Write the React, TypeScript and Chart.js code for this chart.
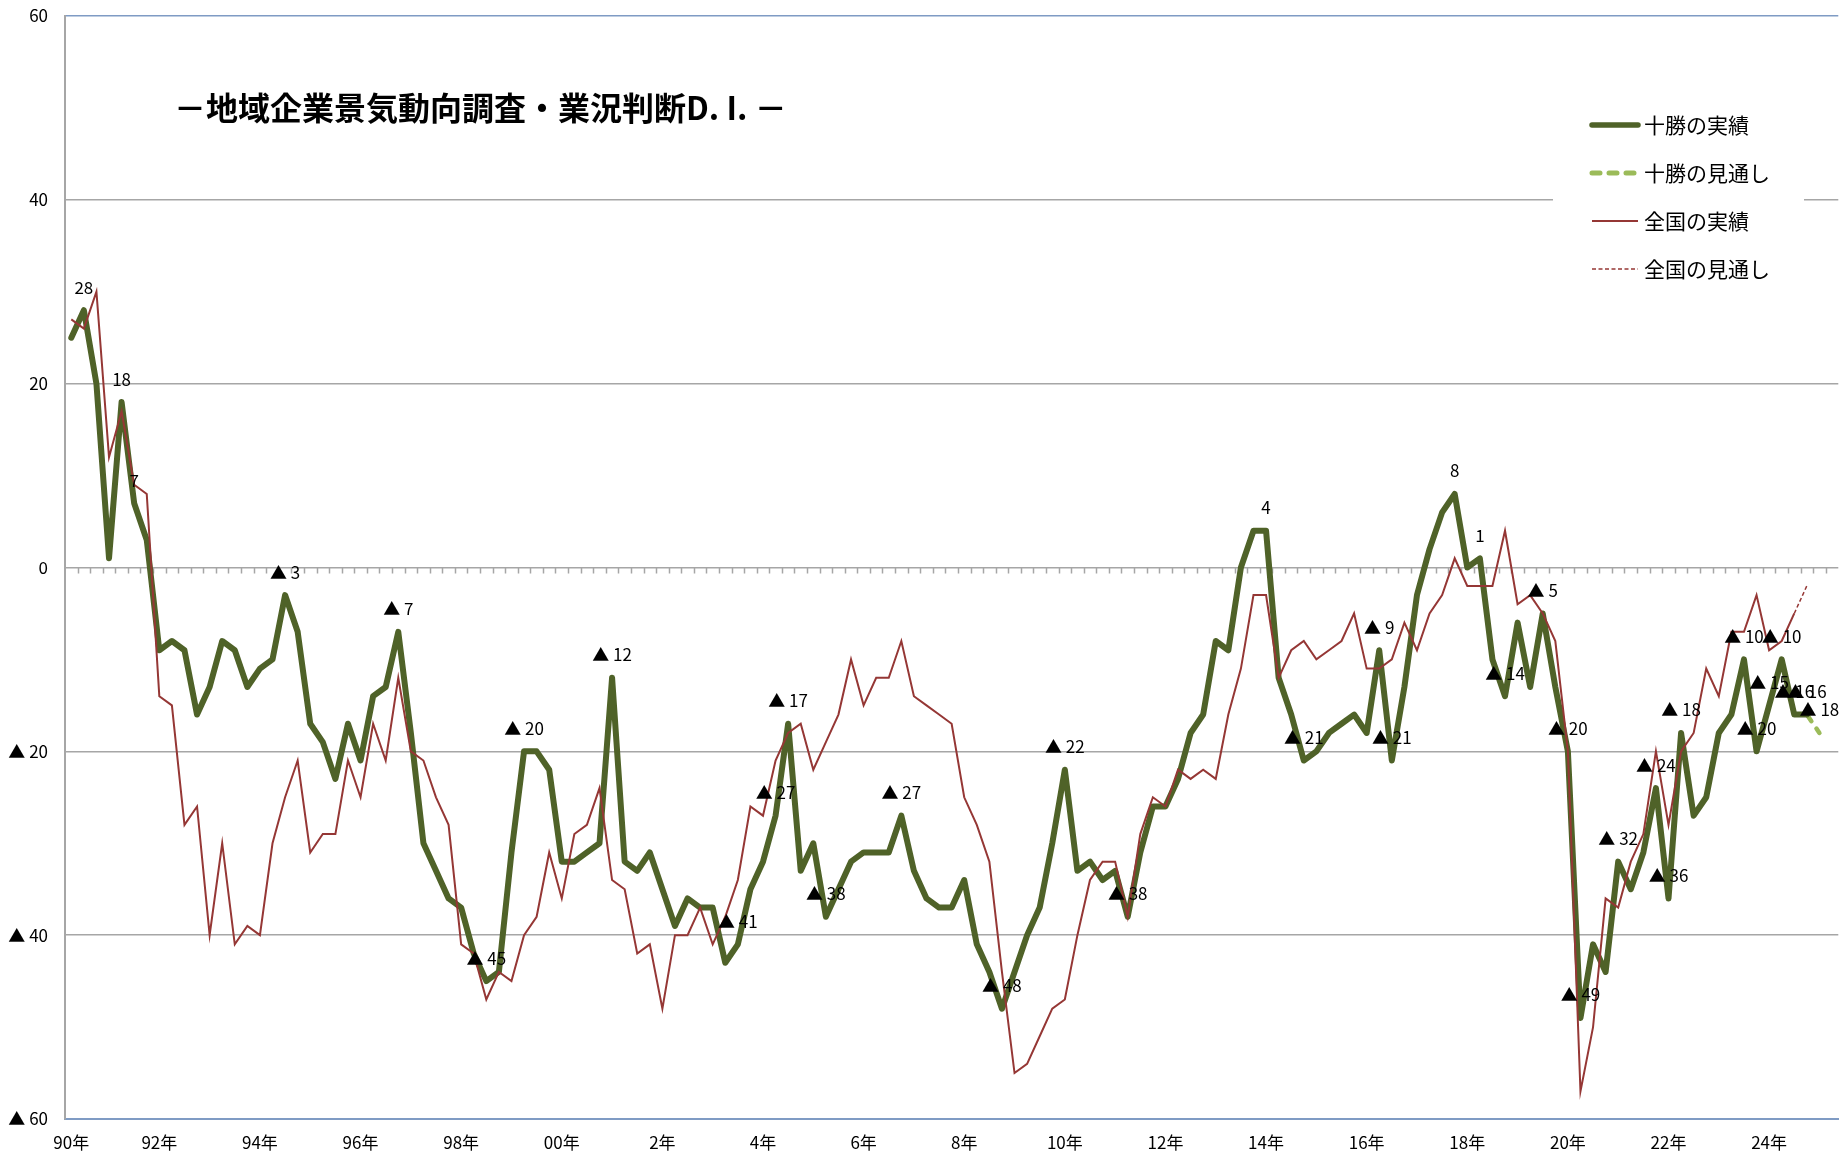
import React, { useEffect, useRef } from 'react';
import { Chart, registerables } from 'chart.js';

Chart.register(...registerables);

const FONT = '"Noto Sans CJK JP", "Noto Sans", sans-serif';

// ---- categories (quarters, starting 1990 Q2) ----
const START_YEAR = 1990;
const START_QUARTER = 2;
const CATEGORY_COUNT = 141;
const categories: string[] = Array.from({ length: CATEGORY_COUNT }, (_, i) => {
  const q = START_QUARTER - 1 + i;
  return `${START_YEAR + Math.floor(q / 4)}Q${(q % 4) + 1}`;
});

// ---- x tick labels ----
const tickCategories = [
  '1990Q2', '1992Q1', '1994Q1', '1996Q1', '1998Q1', '2000Q1', '2002Q1', '2004Q1', '2006Q1',
  '2008Q1', '2010Q1', '2012Q1', '2014Q1', '2016Q1', '2018Q1', '2020Q1', '2022Q1', '2024Q1',
];
const tickLabels = [
  '90年', '92年', '94年', '96年', '98年', '00年', '2年', '4年', '6年',
  '8年', '10年', '12年', '14年', '16年', '18年', '20年', '22年', '24年',
];

// ---- series ----
const tokachiActual = [
  25, 28, 20, 1, 18, 7, 3, -9, -8, -9,
  -16, -13, -8, -9, -13, -11, -10, -3, -7, -17,
  -19, -23, -17, -21, -14, -13, -7, -18, -30, -33,
  -36, -37, -42, -45, -44, -31, -20, -20, -22, -32,
  -32, -31, -30, -12, -32, -33, -31, -35, -39, -36,
  -37, -37, -43, -41, -35, -32, -27, -17, -33, -30,
  -38, -35, -32, -31, -31, -31, -27, -33, -36, -37,
  -37, -34, -41, -44, -48, -44, -40, -37, -30, -22,
  -33, -32, -34, -33, -38, -31, -26, -26, -23, -18,
  -16, -8, -9, 0, 4, 4, -12, -16, -21, -20,
  -18, -17, -16, -18, -9, -21, -13, -3, 2, 6,
  8, 0, 1, -10, -14, -6, -13, -5, -13, -20,
  -49, -41, -44, -32, -35, -31, -24, -36, -18, -27,
  -25, -18, -16, -10, -20, -15, -10, -16, -16,
];

const nationalActual = [
  27, 26, 30, 12, 17, 9, 8, -14, -15, -28,
  -26, -40, -30, -41, -39, -40, -30, -25, -21, -31,
  -29, -29, -21, -25, -17, -21, -12, -20, -21, -25,
  -28, -41, -42, -47, -44, -45, -40, -38, -31, -36,
  -29, -28, -24, -34, -35, -42, -41, -48, -40, -40,
  -37, -41, -38, -34, -26, -27, -21, -18, -17, -22,
  -19, -16, -10, -15, -12, -12, -8, -14, -15, -16,
  -17, -25, -28, -32, -44, -55, -54, -51, -48, -47,
  -40, -34, -32, -32, -38, -29, -25, -26, -22, -23,
  -22, -23, -16, -11, -3, -3, -12, -9, -8, -10,
  -9, -8, -5, -11, -11, -10, -6, -9, -5, -3,
  1, -2, -2, -2, 4, -4, -3, -5, -8, -20,
  -57, -50, -36, -37, -32, -29, -20, -28, -20, -18,
  -11, -14, -7, -7, -3, -9, -8, -5,
];

const tokachiForecastCategories = ['2024Q4', '2025Q1'];
const tokachiForecastValues = [-16, -18];
const nationalForecastCategories = ['2024Q3', '2024Q4'];
const nationalForecastValues = [-5, -2];

// points of 十勝の実績 that carry a value label
const tokachiLabelIndex = [
  1, 4, 5, 17, 26, 33, 36, 43, 53, 56, 57, 60, 66, 74, 79, 84, 95, 98, 104, 105,
  110, 112, 114, 117, 119, 120, 123, 126, 127, 128, 133, 134, 135, 136, 137, 138,
];
// points of 十勝の見通し that carry a value label (index within the forecast arrays)
const tokachiForecastLabelIndex = [1];

const seriesNames = ['十勝の実績', '十勝の見通し', '全国の実績', '全国の見通し'];

const TITLE = '－地域企業景気動向調査・業況判断D. I. －';

const GREEN = '#4F6228';
const LIGHT_GREEN = '#9BBB59';
const RED = '#953735';
const GRID = '#A6A6A6';
const FRAME_BLUE = '#7F9BC4';

const fmt = (v: number) => (v < 0 ? `▲ ${-v}` : `${v}`);

const fromCats = (cats: string[], vals: number[]) =>
  categories.map((c) => {
    const k = cats.indexOf(c);
    return k >= 0 ? vals[k] : null;
  });

const overlayPlugin = {
  id: 'overlay',
  beforeDatasetsDraw(chart: any) {
    const { ctx, scales } = chart;
    const x = scales.x;
    const y0 = scales.y.getPixelForValue(0);
    ctx.save();
    ctx.strokeStyle = GRID;
    ctx.lineWidth = 1.5;
    ctx.beginPath();
    for (let k = 1; k < categories.length; k++) {
      const px = (x.getPixelForValue(k - 1) + x.getPixelForValue(k)) / 2;
      ctx.moveTo(Math.round(px) + 0.5, y0);
      ctx.lineTo(Math.round(px) + 0.5, y0 + 6);
    }
    ctx.stroke();
    ctx.restore();
  },
  afterDatasetsDraw(chart: any) {
    const { ctx } = chart;
    ctx.save();
    ctx.font = `17px ${FONT}`;
    ctx.fillStyle = '#000';
    ctx.textAlign = 'center';
    ctx.textBaseline = 'middle';
    const m0 = chart.getDatasetMeta(0);
    tokachiLabelIndex.forEach((i) => {
      const p = m0.data[i];
      if (!p) return;
      ctx.fillText(fmt(tokachiActual[i]), p.x, p.y - 23);
    });
    const m1 = chart.getDatasetMeta(1);
    tokachiForecastLabelIndex.forEach((k) => {
      const i = categories.indexOf(tokachiForecastCategories[k]);
      const p = m1.data[i];
      if (!p) return;
      ctx.fillText(fmt(tokachiForecastValues[k]), p.x, p.y - 23);
    });
    ctx.restore();
  },
  afterDraw(chart: any) {
    const { ctx } = chart;
    ctx.save();
    // title
    ctx.font = `bold 32px ${FONT}`;
    ctx.fillStyle = '#000';
    ctx.textAlign = 'left';
    ctx.textBaseline = 'middle';
    ctx.fillText(TITLE, 174, 108);

    // legend
    ctx.fillStyle = '#FFFFFF';
    ctx.fillRect(1553, 100, 251, 196);
    const items = [
      { color: GREEN, width: 5.5, dash: [] as number[] },
      { color: LIGHT_GREEN, width: 5, dash: [8, 9] },
      { color: RED, width: 2, dash: [] as number[] },
      { color: RED, width: 1.3, dash: [4, 2.5] },
    ];
    items.forEach((it, k) => {
      const yy = 125 + k * 48;
      ctx.beginPath();
      ctx.strokeStyle = it.color;
      ctx.lineWidth = it.width;
      ctx.lineCap = k < 2 ? 'round' : 'butt';
      ctx.setLineDash(it.dash);
      ctx.moveTo(1592, yy);
      ctx.lineTo(1638, yy);
      ctx.stroke();
      ctx.setLineDash([]);
      ctx.fillStyle = '#000';
      ctx.font = `21px ${FONT}`;
      ctx.textAlign = 'left';
      ctx.textBaseline = 'middle';
      ctx.fillText(seriesNames[k], 1644, yy);
    });
    ctx.restore();
  },
};

export default function App() {
  const ref = useRef<HTMLCanvasElement | null>(null);

  useEffect(() => {
    if (!ref.current) return;
    const chart = new Chart(ref.current, {
      type: 'line',
      data: {
        labels: categories,
        datasets: [
          {
            label: seriesNames[0],
            data: categories.map((_, i) => (i < tokachiActual.length ? tokachiActual[i] : null)),
            borderColor: GREEN,
            backgroundColor: GREEN,
            borderWidth: 6,
            pointRadius: 0,
            borderJoinStyle: 'round',
            borderCapStyle: 'round',
            tension: 0,
            order: 2,
          },
          {
            label: seriesNames[1],
            data: fromCats(tokachiForecastCategories, tokachiForecastValues),
            borderColor: LIGHT_GREEN,
            backgroundColor: LIGHT_GREEN,
            borderWidth: 4.5,
            borderDash: [8, 9],
            borderCapStyle: 'round',
            pointRadius: 0,
            tension: 0,
            order: 2,
          },
          {
            label: seriesNames[2],
            data: categories.map((_, i) => (i < nationalActual.length ? nationalActual[i] : null)),
            borderColor: RED,
            backgroundColor: RED,
            borderWidth: 2,
            pointRadius: 0,
            borderJoinStyle: 'miter',
            tension: 0,
            order: 1,
          },
          {
            label: seriesNames[3],
            data: fromCats(nationalForecastCategories, nationalForecastValues),
            borderColor: RED,
            backgroundColor: RED,
            borderWidth: 1.5,
            borderDash: [4, 2.5],
            pointRadius: 0,
            tension: 0,
            order: 1,
          },
        ],
      },
      options: {
        responsive: false,
        animation: false,
        devicePixelRatio: 1,
        layout: { padding: { top: 16, right: 0, bottom: 0, left: 0 } },
        plugins: {
          legend: { display: false },
          tooltip: { enabled: false },
          title: { display: false },
        },
        scales: {
          x: {
            type: 'category',
            offset: true,
            grid: { display: false, drawTicks: false },
            border: { display: true, color: FRAME_BLUE, width: 2 },
            ticks: {
              autoSkip: false,
              maxRotation: 0,
              minRotation: 0,
              padding: 13,
              color: '#000',
              font: { family: FONT, size: 17 },
              callback: (_v: any, i: number) => {
                const k = tickCategories.indexOf(categories[i]);
                return k >= 0 ? tickLabels[k] : '';
              },
            },
            afterFit: (s: any) => {
              s.height = 35;
            },
          },
          y: {
            min: -60,
            max: 60,
            grid: {
              drawTicks: true,
              tickLength: 17,
              tickColor: 'rgba(0,0,0,0)',
              lineWidth: 1.5,
              color: (c: any) =>
                c.tick && (c.tick.value === 60 || c.tick.value === -60) ? FRAME_BLUE : GRID,
            },
            border: { display: true, color: GRID, width: 2 },
            ticks: {
              stepSize: 20,
              padding: 0,
              color: '#000',
              font: { family: FONT, size: 17 },
              callback: (v: any) => fmt(Number(v)),
            },
            afterFit: (s: any) => {
              s.width = 65;
            },
          },
        },
      },
      plugins: [overlayPlugin],
    } as any);
    return () => chart.destroy();
  }, []);

  return (
    <div style={{ position: 'fixed', left: 0, top: 0, width: 1845, height: 1154, background: '#fff' }}>
      <canvas ref={ref} width={1845} height={1154} style={{ display: 'block' }} />
    </div>
  );
}
